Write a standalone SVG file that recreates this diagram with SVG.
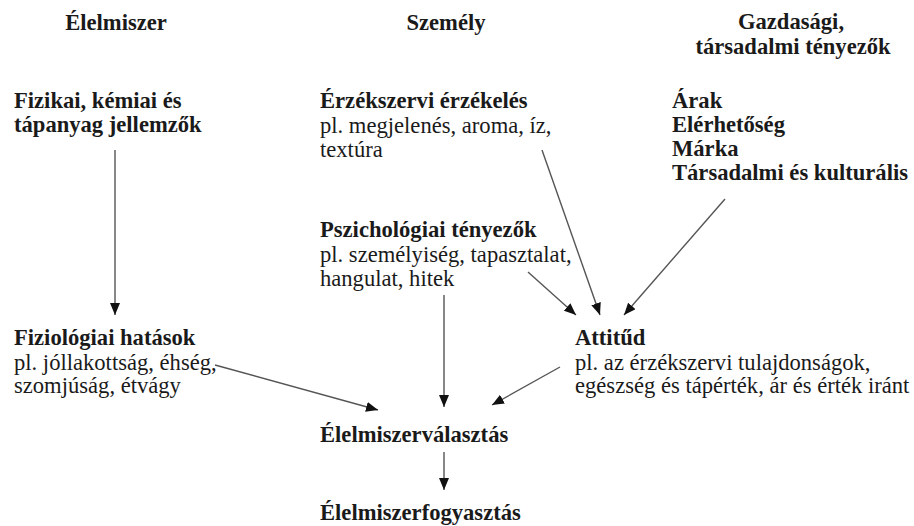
<svg xmlns="http://www.w3.org/2000/svg" width="914" height="526" viewBox="0 0 914 526">
<defs>
<marker id="ah" markerUnits="userSpaceOnUse" markerWidth="12" markerHeight="10" refX="12" refY="5" orient="auto">
<path d="M0,0 L12,5 L0,10 z" fill="#111"/>
</marker>
<style>
text{font-size:22.6px;fill:#1a1a1a}
.b{font-weight:bold}
.h{font-weight:bold;text-anchor:middle}
.c line{stroke:#555;stroke-width:1.4;marker-end:url(#ah)}
</style>
</defs>
<rect width="914" height="526" fill="#fff"/>
<g font-family="'Liberation Serif', 'Times New Roman', 'DejaVu Serif', serif">
<g id="h1"><text class="h" x="116" y="30">Élelmiszer</text></g>
<g id="h2"><text class="h" x="446" y="30">Személy</text></g>
<g id="h3"><text class="h" x="791" y="29">Gazdasági,</text><text class="h" x="793" y="54">társadalmi tényezők</text></g>
<g id="n-fizikai"><text class="b" x="14" y="108">Fizikai, kémiai és</text><text class="b" x="14" y="132">tápanyag jellemzők</text></g>
<g id="n-erzek"><text class="b" x="320" y="108">Érzékszervi érzékelés</text><text x="320" y="133">pl. megjelenés, aroma, íz,</text><text x="320" y="157">textúra</text></g>
<g id="n-gazd"><text class="b" x="672" y="108">Árak</text><text class="b" x="672" y="132">Elérhetőség</text><text class="b" x="672" y="156">Márka</text><text class="b" x="672" y="180">Társadalmi és kulturális</text></g>
<g id="n-pszich"><text class="b" x="320" y="237">Pszichológiai tényezők</text><text x="320" y="262">pl. személyiség, tapasztalat,</text><text x="320" y="286">hangulat, hitek</text></g>
<g id="n-fiziol"><text class="b" x="14" y="345">Fiziológiai hatások</text><text x="14" y="370">pl. jóllakottság, éhség,</text><text x="14" y="393">szomjúság, étvágy</text></g>
<g id="n-attitud"><text class="b" x="575" y="345">Attitűd</text><text x="575" y="370">pl. az érzékszervi tulajdonságok,</text><text x="575" y="393">egészség és tápérték, ár és érték iránt</text></g>
<g id="n-valaszt"><text class="b" x="320" y="442">Élelmiszerválasztás</text></g>
<g id="n-fogyaszt"><text class="b" x="320" y="520">Élelmiszerfogyasztás</text></g>
</g>
<g id="connectors" class="c">
<line x1="115" y1="150" x2="115" y2="315"/>
<line x1="215" y1="365" x2="378" y2="410"/>
<line x1="444" y1="295" x2="444" y2="407"/>
<line x1="560" y1="367" x2="492" y2="405"/>
<line x1="444" y1="452" x2="444" y2="490"/>
<line x1="528" y1="272" x2="576" y2="315"/>
<line x1="542" y1="150" x2="600" y2="315"/>
<line x1="725" y1="199" x2="624" y2="315"/>
</g>
</svg>
